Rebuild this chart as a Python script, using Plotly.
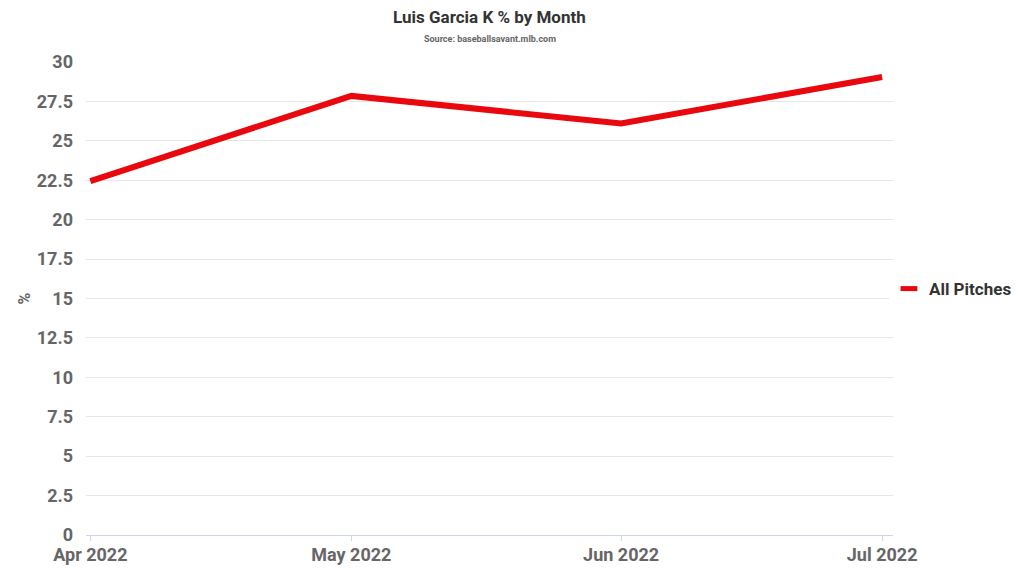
import plotly.graph_objects as go

months = ["2022-04-01", "2022-05-01", "2022-06-01", "2022-07-01"]
k_pct = [22.45, 27.85, 26.1, 29.05]
y_ticks = [0, 2.5, 5, 7.5, 10, 12.5, 15, 17.5, 20, 22.5, 25, 27.5, 30]
x_tick_labels = ["Apr 2022", "May 2022", "Jun 2022", "Jul 2022"]
series_name = "All Pitches"

FONT = "Roboto"
RED = "#e8080e"

fig = go.Figure()
fig.add_trace(go.Scatter(
    x=months, y=k_pct, mode="lines", name=series_name,
    line=dict(color=RED, width=6), showlegend=False, legendgroup="a",
))
# legend entry with a short thick mark, like the reference
fig.add_trace(go.Scatter(
    x=[None], y=[None], mode="markers", name=series_name, legendgroup="a",
    marker=dict(symbol="line-ew", size=12, color=RED, line=dict(color=RED, width=6)),
    showlegend=True,
))

fig.add_annotation(
    text="<b>Luis Garcia K % by Month</b>", xref="paper", yref="paper",
    x=0.5, y=1, yshift=45, xanchor="center", yanchor="middle", showarrow=False,
    font=dict(family=FONT, size=17, color="#333"),
)
fig.add_annotation(
    text="<b>Source: baseballsavant.mlb.com</b>", xref="paper", yref="paper",
    x=0.5, y=1, yshift=23, xanchor="center", yanchor="middle", showarrow=False,
    font=dict(family=FONT, size=9, color="#666"),
)

fig.update_layout(
    width=1024, height=576,
    margin=dict(l=86, r=131, t=62, b=41, autoexpand=False),
    paper_bgcolor="white", plot_bgcolor="white",
    font=dict(family=FONT),
    showlegend=True,
    legend=dict(
        x=0.995, xanchor="left", y=0.52, yanchor="middle",
        font=dict(family=FONT, size=17, color="#333", weight="bold"),
        itemwidth=30,
    ),
    xaxis=dict(
        type="date", automargin=False,
        range=["2022-03-31 12:00", "2022-07-02 06:00"],
        tickvals=months, ticktext=x_tick_labels,
        tickfont=dict(family=FONT, size=18, color="#666", weight="bold"),
        showgrid=False, showline=True, linecolor="#ccd6eb",
        ticks="outside", ticklen=5, tickcolor="#ccd6eb",
        ticklabelstandoff=-2,
    ),
    yaxis=dict(
        range=[0, 30], tickvals=y_ticks, automargin=False,
        ticktext=[f"{v:g}" for v in y_ticks],
        tickfont=dict(family=FONT, size=18, color="#666", weight="bold"),
        gridcolor="#e6e6e6", zeroline=False,
        title=dict(text="%", font=dict(family=FONT, size=16, color="#666", weight="bold"), standoff=2),
        ticklabelstandoff=12,
    ),
)

fig.write_html("out.html")
